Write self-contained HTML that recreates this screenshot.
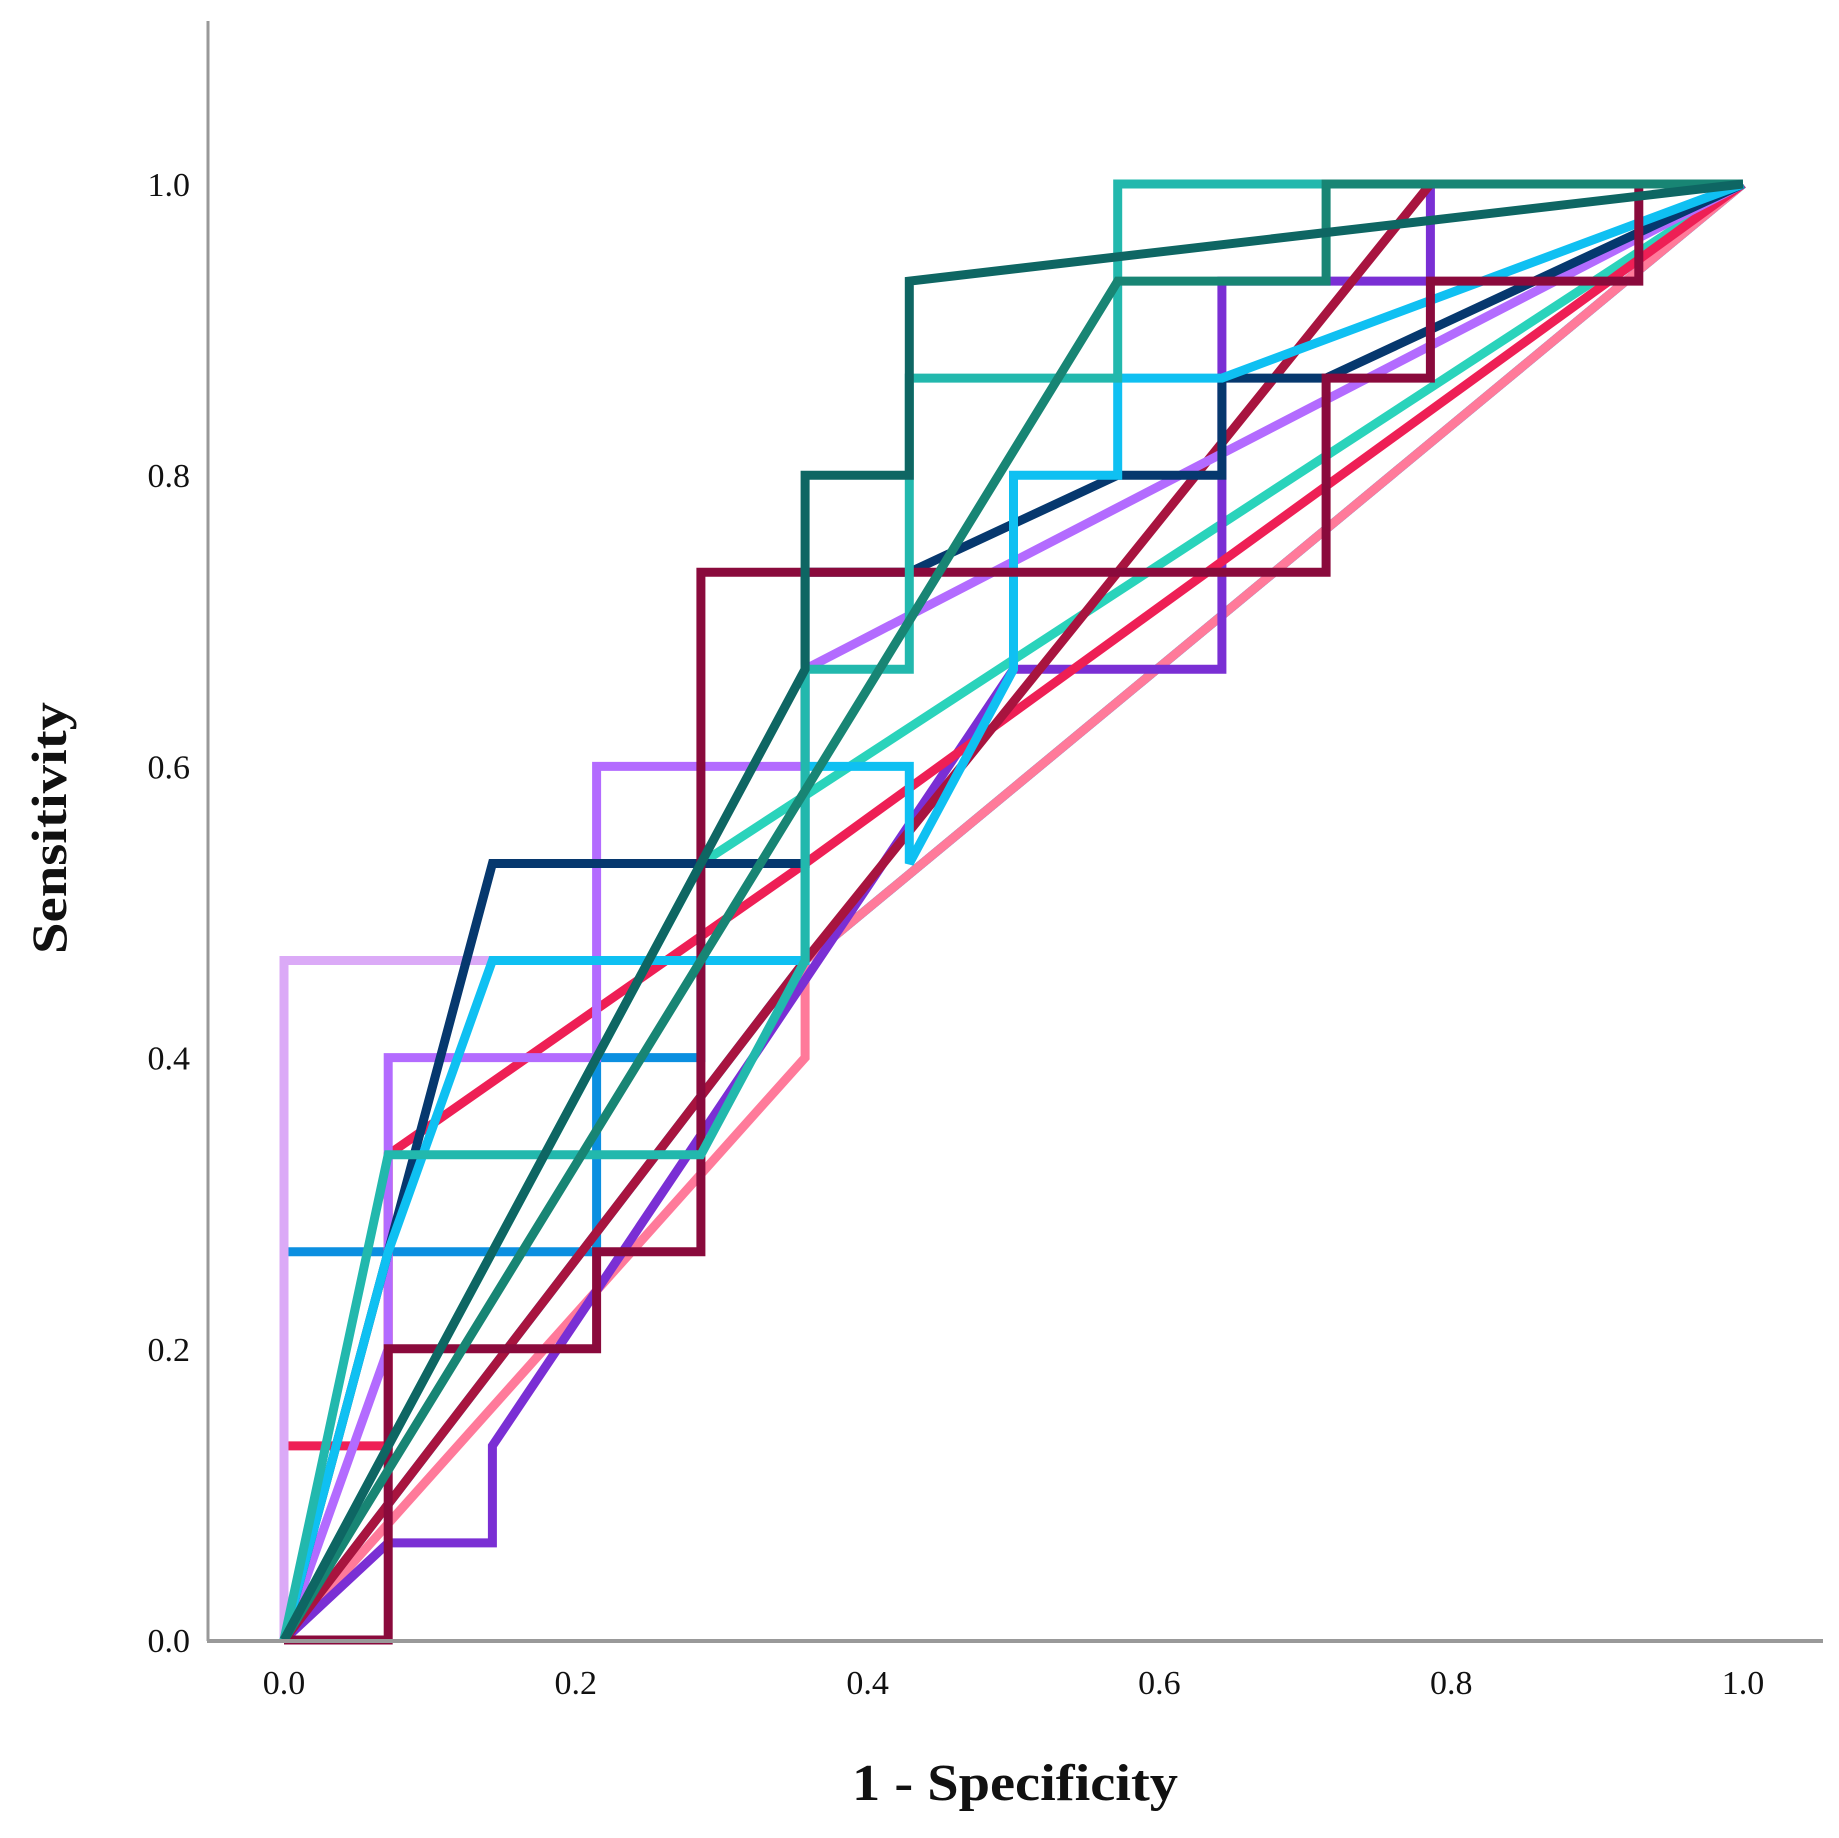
<!DOCTYPE html>
<html><head><meta charset="utf-8"><style>
html,body{margin:0;padding:0;background:#fff;}
svg text{font-family:"Liberation Serif",serif;fill:#111;}
</style></head><body>
<svg id="chart" width="1839" height="1833" viewBox="0 0 1839 1833" xmlns="http://www.w3.org/2000/svg">
<g id="series"></g>
<line x1="208" y1="21" x2="208" y2="1641" stroke="#999" stroke-width="3"/>
<line x1="207" y1="1641" x2="1823" y2="1641" stroke="#999" stroke-width="4"/>
<g id="yticks"></g>
<g id="xticks"></g>
<text x="1015" y="1800" text-anchor="middle" font-size="52" font-weight="bold" textLength="326" lengthAdjust="spacingAndGlyphs">1 - Specificity</text>
<text transform="translate(66,828) rotate(-90)" text-anchor="middle" font-size="50" font-weight="bold" textLength="252" lengthAdjust="spacingAndGlyphs">Sensitivity</text>
</svg>
<script>
// ROC points: x in units of 1/14 (1-specificity), y in units of 1/15 (sensitivity)
const tickValues = [0.0, 0.2, 0.4, 0.6, 0.8, 1.0];
const tickLabels = ["0.0", "0.2", "0.4", "0.6", "0.8", "1.0"];
const seriesNames = ["s1","s2","s3","s4","s5","s6","s7","s8","s9","s10","s11","s12","s13","s14","s15"];
const seriesColors = ["#0e6663","#188574","#22b8ad","#8a0a3c","#a8143f","#ee1f55","#ff7a9a","#dbaaf7","#b36bff","#7a2fd4","#06386e","#0fc0f2","#0b8fe0","#1aa4ec","#2ad3bb"];
const s1x=[0,5,5,6,6,14], s1y=[0,10,12,12,14,15];
const s2x=[0,8,10,10,14], s2y=[0,14,14,15,15];
const s3x=[0,1,4,5,5,6,6,8,8,10,14], s3y=[0,5,5,7,10,10,13,13,15,15,15];
const s4x=[0,1,1,3,3,4,4,10,10,11,11,13,13,14], s4y=[0,0,3,3,4,4,11,11,13,13,14,14,15,15];
const s5x=[0,5,11,14], s5y=[0,7,15,15];
const s6x=[0,0,1,1,5,14], s6y=[0,2,2,5,8,15];
const s7x=[0,5,5,14], s7y=[0,6,7,15];
const s8x=[0,0,2,2], s8y=[0,7,7,7];
const s9x=[0,1,1,3,3,5,5,14], s9y=[0,3,6,6,9,9,10,15];
const s10x=[0,1,2,2,7,9,9,11,11,14], s10y=[0,1,1,2,10,10,14,14,15,15];
const s11x=[0,2,5,5,6,8,9,9,10,14], s11y=[0,8,8,11,11,12,12,13,13,15];
const s12x=[0,1,2,5,5,6,6,7,7,8,8,9,14], s12y=[0,4,7,7,9,9,8,10,12,12,13,13,15];
const s13x=[0,0,3,3,4,4,5,14], s13y=[0,4,4,6,6,7,7,15];
const s14x=[0,5,14], s14y=[0,7,15];
const s15x=[0,4,14], s15y=[0,8,15];
const allX=[s1x,s2x,s3x,s4x,s5x,s6x,s7x,s8x,s9x,s10x,s11x,s12x,s13x,s14x,s15x];
const allY=[s1y,s2y,s3y,s4y,s5y,s6y,s7y,s8y,s9y,s10y,s11y,s12y,s13y,s14y,s15y];

const X0=284, X1=1743, Y0=1640, Y1=184;
function sx(v){return X0+v*(X1-X0);}
function sy(v){return Y0-v*(Y0-Y1);}
const NS="http://www.w3.org/2000/svg";
const drawOrder=[13,12,14,6,9,5,4,8,7,10,11,3,2,1,0];
const g=document.getElementById('series');
drawOrder.forEach(i=>{
  const p=document.createElementNS(NS,'polyline');
  p.setAttribute('points',allX[i].map((x,k)=>sx(x/14).toFixed(1)+','+sy(allY[i][k]/15).toFixed(1)).join(' '));
  p.setAttribute('fill','none');
  p.setAttribute('stroke',seriesColors[i]);
  p.setAttribute('stroke-width','9');
  p.setAttribute('stroke-linejoin','miter');
  
  
  g.appendChild(p);
});
const yt=document.getElementById('yticks'), xt=document.getElementById('xticks');
tickValues.forEach((v,i)=>{
  const t=document.createElementNS(NS,'text');
  t.setAttribute('x',190);t.setAttribute('y',sy(v)+12);
  t.setAttribute('text-anchor','end');t.setAttribute('font-size','34');
  t.textContent=tickLabels[i];
  
  
  yt.appendChild(t);
  const u=document.createElementNS(NS,'text');
  u.setAttribute('x',sx(v));u.setAttribute('y',1694);
  u.setAttribute('text-anchor','middle');u.setAttribute('font-size','34');
  u.textContent=tickLabels[i];
  
  
  xt.appendChild(u);
});
</script>
</body></html>
